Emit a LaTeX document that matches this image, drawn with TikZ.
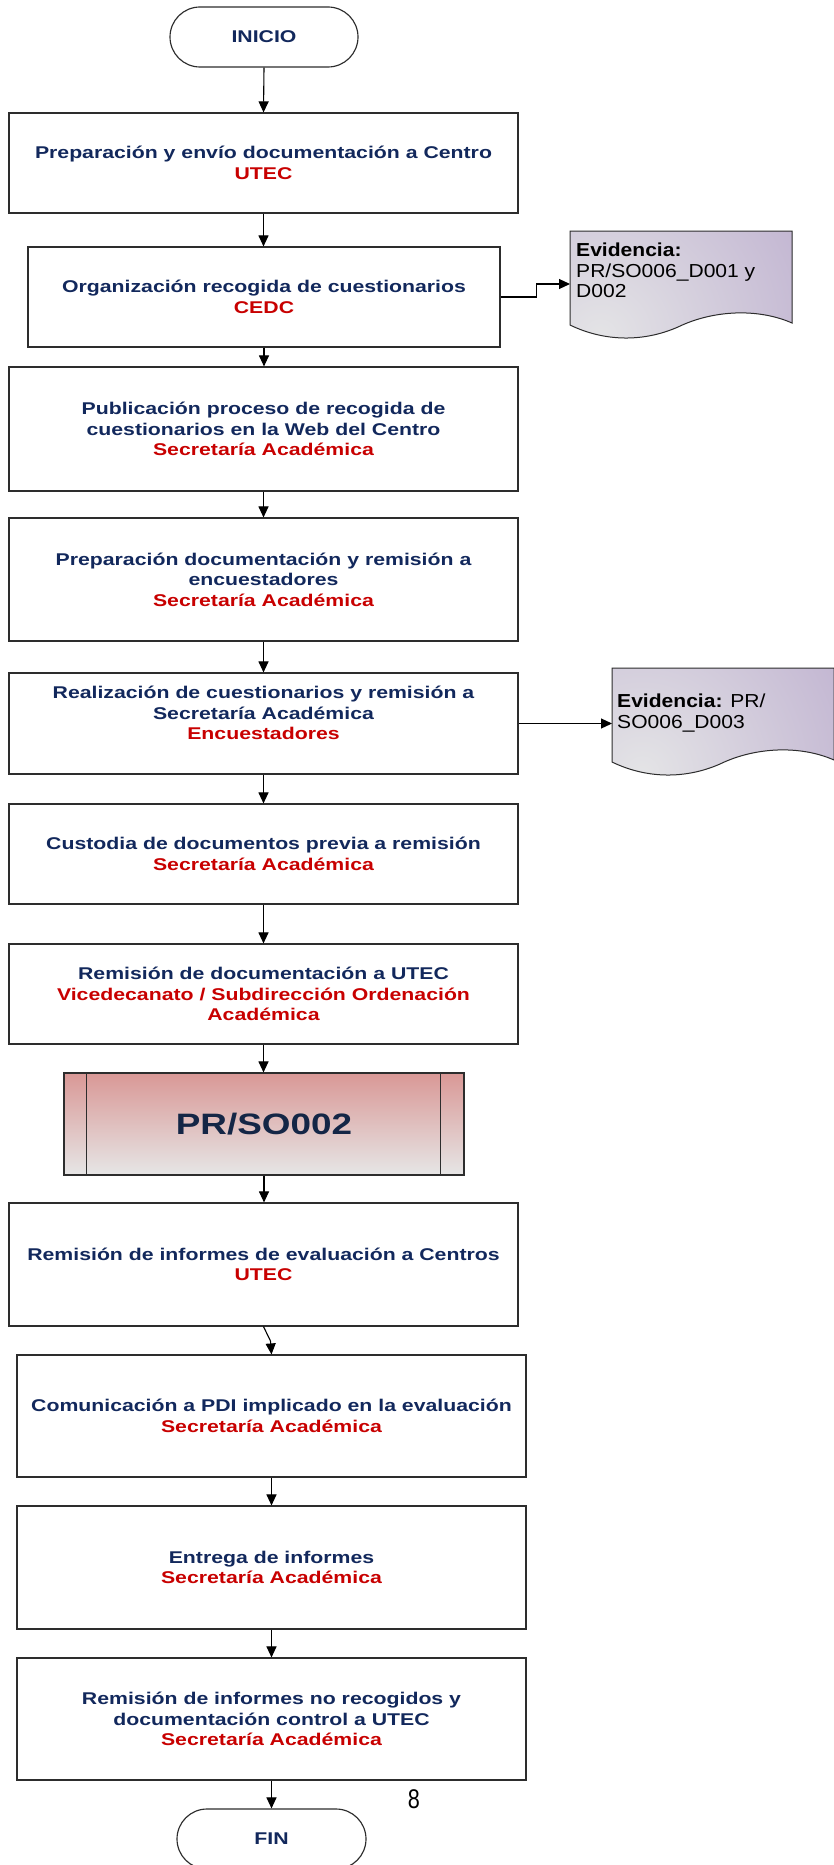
\documentclass[tikz,border=0pt]{standalone}
\usepackage{fontspec}
\setmainfont{Liberation Sans}
\newfontfamily\boxfont{Liberation Sans}[FakeStretch=1.25]
\newfontfamily\evfont{Liberation Sans}[FakeStretch=1.12]
\newfontfamily\narrowfont{Liberation Sans}[FakeStretch=0.8]
\usetikzlibrary{arrows.meta,shapes.misc}
\definecolor{navy}{RGB}{18,40,92}
\definecolor{navydark}{RGB}{20,38,70}
\definecolor{redx}{RGB}{200,0,0}
\definecolor{rose}{RGB}{217,152,150}
\definecolor{lgray}{RGB}{230,230,230}
\definecolor{lav}{RGB}{191,177,208}
\definecolor{evgray}{RGB}{228,228,230}
\definecolor{bord}{RGB}{45,45,45}
\tikzset{
  box/.style={draw=bord, line width=1.15pt, rectangle, minimum width=509pt, align=center,
    font=\boxfont\bfseries\fontsize{17}{20.5}\selectfont, text=navy, inner sep=0pt},
  term/.style={draw=bord, line width=1.15pt, rounded rectangle, minimum width=188pt,
    minimum height=60pt, inner sep=0pt, font=\boxfont\bfseries\fontsize{17}{20.5}\selectfont, text=navy},
  arr/.style={-{Triangle[length=11pt,width=10pt]}, line width=1.1pt, black},
  evtext/.style={anchor=north west, align=left, inner sep=0pt, text=black,
    font=\evfont\fontsize{18.8}{20.5}\selectfont},
  evshape/.pic={
    \begin{scope}
      \clip (0,0) -- (222,0) -- (222,92) .. controls (188,77) and (143,79) .. (108,96)
        .. controls (74,111) and (35,111) .. (0,94) -- cycle;
      \fill[lav] (0,0) rectangle (230,120);
      \shade[inner color=evgray, outer color=lav] (30,105) circle (250);
    \end{scope}
    \draw[bord, line width=1pt] (0,0) -- (222,0) -- (222,92) .. controls (188,77) and (143,79) .. (108,96)
        .. controls (74,111) and (35,111) .. (0,94) -- cycle;
  }
}
\newcommand\rd[1]{\textcolor{redx}{#1}}
\begin{document}
\begin{tikzpicture}[x=1pt,y=-1pt]
\useasboundingbox (0,0) rectangle (833,1865);
\fill[white] (0,0) rectangle (833,1865);

\node[term] (ini) at (264,37) {INICIO};
\node[box, minimum height=100pt] (b1) at (263.5,163) {Preparación y envío documentación a Centro\\\rd{UTEC}};
\node[box, minimum width=472pt, minimum height=100pt] (b2) at (264,297) {Organización recogida de cuestionarios\\\rd{CEDC}};
\node[box, minimum height=124pt] (b3) at (263.5,429) {Publicación proceso de recogida de\\cuestionarios en la Web del Centro\\\rd{Secretaría Académica}};
\node[box, minimum height=123pt] (b4) at (263.5,579.5) {Preparación documentación y remisión a\\encuestadores\\\rd{Secretaría Académica}};
\node[box, minimum height=101pt] (b5) at (263.5,723.5) {};
\node[align=center, inner sep=0pt, text=navy, font=\boxfont\bfseries\fontsize{17}{20.5}\selectfont] (b5t) at (263.5,713) {Realización de cuestionarios y remisión a\\Secretaría Académica\\\rd{Encuestadores}};
\node[box, minimum height=100pt] (b6) at (263.5,854) {Custodia de documentos previa a remisión\\\rd{Secretaría Académica}};
\node[box, minimum height=100pt] (b7) at (263.5,994) {Remisión de documentación a UTEC\\\rd{Vicedecanato / Subdirección Ordenación}\\\rd{Académica}};
\node[draw=bord, line width=1.15pt, minimum width=400pt, minimum height=102pt, inner sep=0pt,
  top color=rose, bottom color=lgray, text=navydark,
  font=\boxfont\bfseries\fontsize{29.5}{30}\selectfont] (pr) at (264,1124) {PR/SO002};
\draw[bord, line width=1.15pt] ([xshift=23pt]pr.north west) -- ([xshift=23pt]pr.south west);
\draw[bord, line width=1.15pt] ([xshift=-24pt]pr.north east) -- ([xshift=-24pt]pr.south east);
\node[box, minimum height=123pt] (b8) at (263.5,1264.5) {Remisión de informes de evaluación a Centros\\\rd{UTEC}};
\node[box, minimum height=122pt] (b9) at (271.5,1416) {Comunicación a PDI implicado en la evaluación\\\rd{Secretaría Académica}};
\node[box, minimum height=123pt] (b10) at (271.5,1567.5) {Entrega de informes\\\rd{Secretaría Académica}};
\node[box, minimum height=122pt] (b11) at (271.5,1719) {Remisión de informes no recogidos y\\documentación control a UTEC\\\rd{Secretaría Académica}};
\node[term, minimum width=189pt] (fin) at (271.5,1839) {FIN};
\node[inner sep=0pt, font=\narrowfont\fontsize{27}{27}\selectfont] (pg) at (414,1799) {8};

% evidences
\node[minimum width=222pt, minimum height=94pt, inner sep=0pt, anchor=north west] (ev1) at (570,231) {};
\pic at (ev1.north west) {evshape};
\node[evtext] (ev1t) at (576,243) {\textbf{Evidencia:}\\PR/SO006\_D001 y\\D002};
\node[minimum width=222pt, minimum height=94pt, inner sep=0pt, anchor=north west] (ev2) at (612,668) {};
\pic at (ev2.north west) {evshape};
\node[evtext] (ev2t) at (617,694) {\textbf{Evidencia:} PR/\\SO006\_D003};
\coordinate (e1in) at (570,284);
\coordinate (e2in) at (612,723.5);

% connectors
\draw[arr] (ini.south) -- (b1.north);
\draw[arr] (b1.south) -- (b1.south |- b2.north);
\draw[arr] (b2.south) -- (b2.south |- b3.north);
\draw[arr] (b3.south) -- (b4.north);
\draw[arr] (b4.south) -- (b5.north);
\draw[arr] (b5.south) -- (b6.north);
\draw[arr] (b6.south) -- (b7.north);
\draw[arr] (b7.south) -- (b7.south |- pr.north);
\draw[arr] (pr.south) -- (pr.south |- b8.north);
\draw[arr] (b8.south) -- (270.5,1341) -- (b9.north);
\draw[arr] (b9.south) -- (b10.north);
\draw[arr] (b10.south) -- (b11.north);
\draw[arr] (b11.south) -- (fin.north);
\draw[arr] (b2.east) -- ++(36,0) |- (e1in);
\draw[arr] (b5.east) -- (e2in);
\end{tikzpicture}
\end{document}
